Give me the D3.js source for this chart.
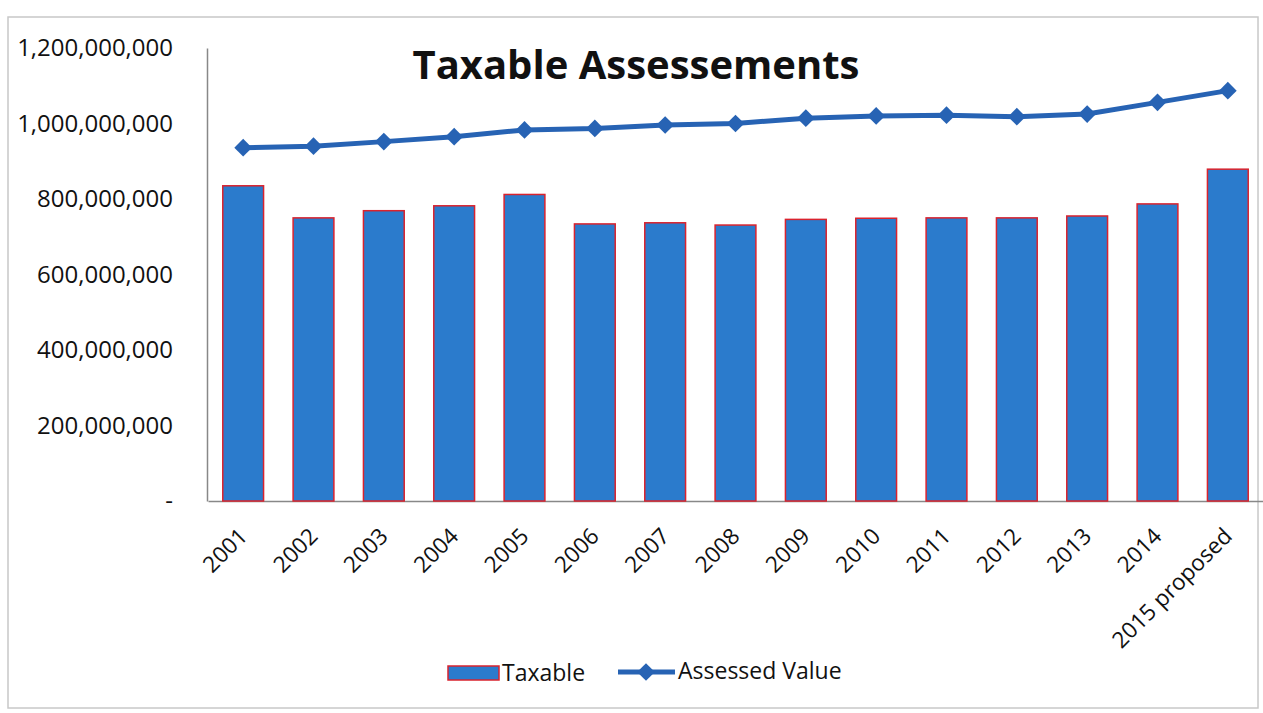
<!DOCTYPE html>
<html>
<head>
<meta charset="utf-8">
<script src="https://cdnjs.cloudflare.com/ajax/libs/d3/7.8.5/d3.min.js"></script>
<style>
body { margin: 0; background: #fff; }
text { font-family: "Open Sans", Calibri, sans-serif; fill: #111; }
</style>
</head>
<body>
<svg id="chart" width="1263" height="713"></svg>
<script>
var anni = ["2001","2002","2003","2004","2005","2006","2007","2008","2009","2010","2011","2012","2013","2014","2015 proposed"];
var taxable = [835e6,750e6,769e6,782e6,812e6,734e6,737e6,731e6,746e6,749e6,750e6,750e6,755e6,787e6,879e6];
var assessed = [936e6,940e6,952e6,965e6,983e6,987e6,996e6,1000e6,1014e6,1020e6,1022e6,1018e6,1025e6,1056e6,1087e6];
var yTicks = [0,200e6,400e6,600e6,800e6,1000e6,1200e6];

var svg = d3.select("#chart");

var margin = {top: 48, right: 0, bottom: 212, left: 208},
    width = 1263,
    height = 713;

var blu = "#2b7bcc", rosso = "#d9232e", linea = "#2763b4";

// frame of the scanned page
svg.append("rect")
    .attr("x", 8).attr("y", 17)
    .attr("width", 1250).attr("height", 691)
    .attr("fill", "none")
    .attr("stroke", "#c8c8c8")
    .attr("stroke-width", 1.5);

// scales
var x = d3.scaleBand()
    .domain(anni)
    .range([margin.left, width])
    .paddingInner(0.42)
    .paddingOuter(0.21);

var y = d3.scaleLinear()
    .domain([0, 1200e6])
    .range([height - margin.bottom, margin.top]);

var fmt = d3.format(",");

//y axis
var yAxis = svg.append("g")
    .attr("transform", "translate(" + (margin.left - 1) + ",0)")
    .call(d3.axisLeft(y).tickValues(yTicks).tickSize(0).tickPadding(34)
        .tickFormat(function(d){ return d == 0 ? "-" : fmt(d); }));
yAxis.select(".domain").attr("stroke", "#888").attr("stroke-width", 1.5);
yAxis.selectAll("text")
    .style("font-size", "24px")
    .style("font-family", "'Open Sans', sans-serif")
    .attr("fill", "#111");

//x axis
var xAxis = svg.append("g")
    .attr("transform", "translate(0," + y(0) + ")")
    .call(d3.axisBottom(x).tickSize(0).tickSizeOuter(0));
xAxis.select(".domain").attr("stroke", "#888").attr("stroke-width", 1.5);
xAxis.selectAll("text")
    .attr("y", 0)
    .attr("x", 0)
    .attr("dy", "0.35em")
    .attr("transform", "translate(0,31) rotate(-45)")
    .style("text-anchor", "end")
    .style("font-size", "22.5px")
    .style("font-family", "'Open Sans', sans-serif")
    .attr("fill", "#111");

//bars
svg.append("g").selectAll("rect")
    .data(taxable)
    .enter()
    .append("rect")
    .attr("x", function(d,i){ return x(anni[i]); })
    .attr("y", function(d){ return y(d); })
    .attr("width", x.bandwidth())
    .attr("height", function(d){ return y(0) - y(d); })
    .attr("fill", blu)
    .attr("stroke", rosso)
    .attr("stroke-width", 1.5);

//line
var line = d3.line()
    .x(function(d,i){ return x(anni[i]) + x.bandwidth()/2; })
    .y(function(d){ return y(d); });

svg.append("path")
    .datum(assessed)
    .attr("d", line)
    .attr("fill", "none")
    .attr("stroke", linea)
    .attr("stroke-width", 5);

var diamond = d3.symbol().type(d3.symbolDiamond2).size(200);
svg.append("g").selectAll("path")
    .data(assessed)
    .enter()
    .append("path")
    .attr("d", diamond)
    .attr("transform", function(d,i){ return "translate(" + (x(anni[i]) + x.bandwidth()/2) + "," + y(d) + ")"; })
    .attr("fill", linea);

//title
svg.append("text")
    .attr("x", 636)
    .attr("y", 79)
    .attr("text-anchor", "middle")
    .style("font-size", "40px")
    .style("font-weight", "bold")
    .text("Taxable Assessements");

//legend
var legenda = svg.append("g");
legenda.append("rect")
    .attr("x", 448).attr("y", 666)
    .attr("width", 51).attr("height", 14)
    .attr("fill", blu)
    .attr("stroke", rosso)
    .attr("stroke-width", 1.5);
legenda.append("text")
    .attr("x", 502).attr("y", 681)
    .style("font-size", "23px")
    .text("Taxable");
legenda.append("line")
    .attr("x1", 618).attr("x2", 675)
    .attr("y1", 672).attr("y2", 672)
    .attr("stroke", linea)
    .attr("stroke-width", 5);
legenda.append("path")
    .attr("d", diamond)
    .attr("transform", "translate(646,672)")
    .attr("fill", linea);
legenda.append("text")
    .attr("x", 678).attr("y", 679)
    .style("font-size", "23px")
    .text("Assessed Value");
</script>
</body>
</html>
